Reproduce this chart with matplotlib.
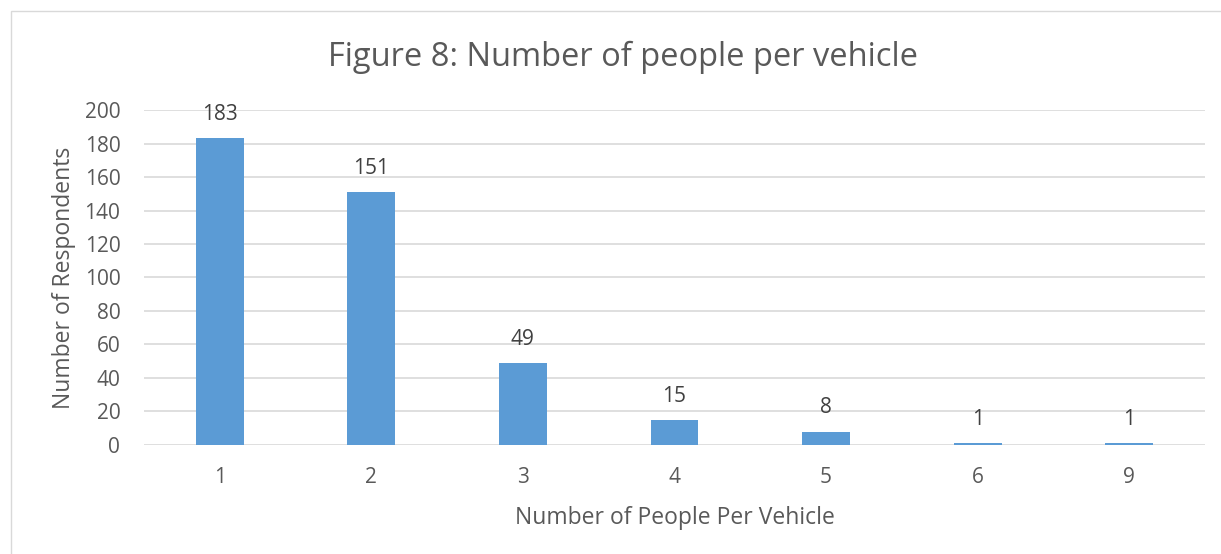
import matplotlib.pyplot as plt
from matplotlib.patches import Rectangle

# people per vehicle survey counts
people = ['1', '2', '3', '4', '5', '6', '9']
respondents = [183, 151, 49, 15, 8, 1, 1]

plt.rcParams['font.family'] = ['Open Sans', 'DejaVu Sans']

fig = plt.figure(figsize=(12.21, 5.54), dpi=100)
ax = fig.add_axes([0.1179, 0.1968, 0.8690, 0.6046])

# chart border
fig.patches.append(Rectangle((11 / 1221, -0.01), 1.02, 1 - 11 / 554 + 0.01,
                             transform=fig.transFigure, fill=False,
                             edgecolor='#d9d9d9', linewidth=1))

x = range(len(people))
ax.bar(x, respondents, width=0.315, color='#5b9bd5', zorder=3)
for xi, v in zip(x, respondents):
    ax.annotate(str(v), (xi, v), xytext=(0, 17), textcoords='offset points',
                ha='center', va='center', fontsize=15, color='#404040')

ax.set_xlim(-0.5, len(people) - 0.5)
ax.set_ylim(0, 200)
ax.set_yticks(range(0, 201, 20))
ax.set_xticks(list(x))
ax.set_xticklabels(people)
ax.yaxis.grid(True, color='#d9d9d9', linewidth=1.2, zorder=0)
ax.set_axisbelow(True)
for s in ax.spines.values():
    s.set_visible(False)
ax.tick_params(length=0, labelsize=15, labelcolor='#595959')
ax.tick_params(axis='y', pad=17)
ax.tick_params(axis='x', pad=16)

ax.set_xlabel('Number of People Per Vehicle', fontsize=16.5, color='#595959', labelpad=13)
ax.set_ylabel('Number of Respondents', fontsize=16.5, color='#595959', labelpad=6)
fig.text(0.51, 0.897, 'Figure 8: Number of people per vehicle', ha='center', va='center',
         fontsize=23.5, color='#595959')

fig.savefig('out.png', dpi=100)
